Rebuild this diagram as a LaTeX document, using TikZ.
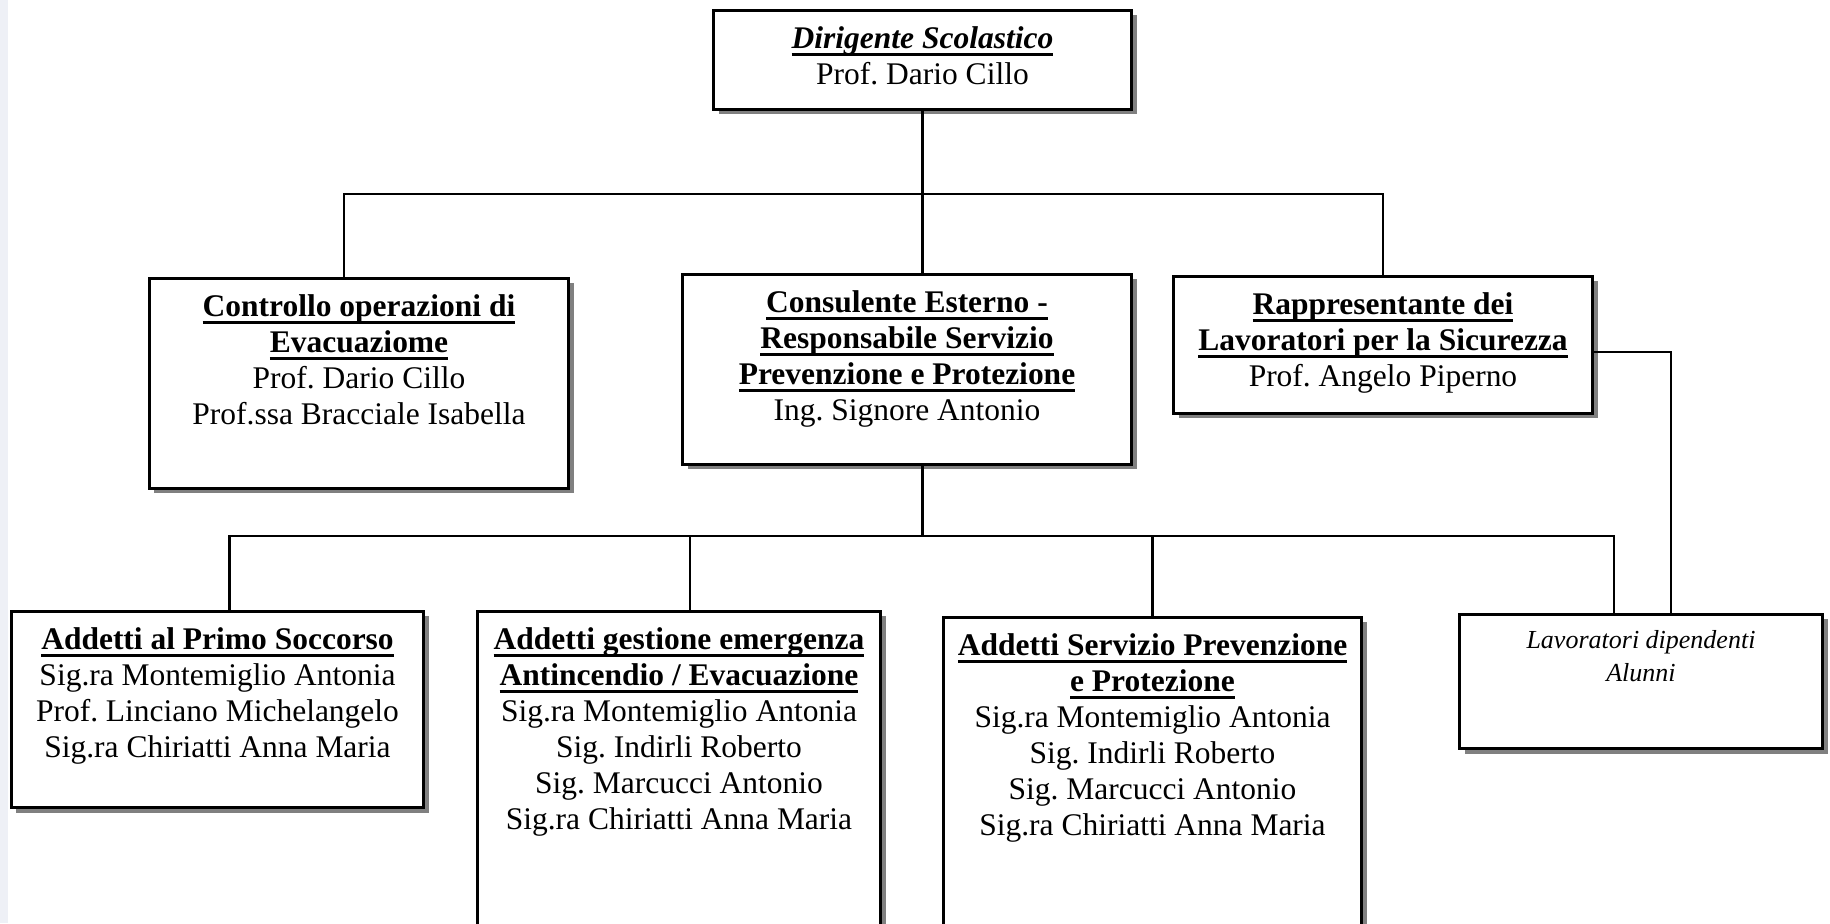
\documentclass[tikz,border=0pt]{standalone}
\usepackage{fontspec}
\setmainfont{Liberation Serif}
\usepackage{tikz}
\usetikzlibrary{calc}
\usetikzlibrary{shadows, positioning}

\definecolor{striscia}{HTML}{EEF0F6}
\frenchspacing

\newcommand{\sott}[1]{\leavevmode\setbox0=\hbox{\bfseries #1}\rlap{\rule[-2.1pt]{\wd0}{0.75pt}}\box0}
\newcommand{\riq}[3]{\parbox[t][#2][t]{#1}{\centering #3}}

\begin{document}
\begin{tikzpicture}[every node/.style={font=\fontsize{8.96}{10.25}\selectfont},
    box/.style={draw, line width=0.85pt, fill=white, anchor=north west,
        inner xsep=0.1cm, inner ysep=0.16cm,
        drop shadow={shadow xshift=0.05cm, shadow yshift=-0.05cm, fill=black!50, opacity=1}},
    conn/.style={line width=0.6pt}]
    \useasboundingbox (0,0) rectangle (18.30,9.23);
    \clip (0,0) rectangle (18.30,9.23);
    \fill[striscia] (0,0) rectangle (0.08,9.23);

    \node[box] (dir) at (7.12,9.14) {\riq{3.98cm}{0.67cm}{\sott{\itshape Dirigente Scolastico}\\ Prof. Dario Cillo}};
    \node[box] (ctrl) at (1.48,6.46) {\riq{3.99cm}{1.78cm}{\sott{Controllo operazioni di}\\ \sott{Evacuaziome}\\ Prof. Dario Cillo\\ Prof.ssa Bracciale Isabella}};
    \node[box] (cons) at (6.81,6.50) {\riq{4.29cm}{1.58cm}{\sott{Consulente Esterno -}\\ \sott{Responsabile Servizio}\\ \sott{Prevenzione e Protezione}\\ Ing. Signore Antonio}};
    \node[box] (rls) at (11.72,6.48) {\riq{3.99cm}{1.05cm}{\sott{Rappresentante dei}\\ \sott{Lavoratori per la Sicurezza}\\ Prof. Angelo Piperno}};
    \node[box] (soc) at (0.10,3.13) {\riq{3.92cm}{1.64cm}{\sott{Addetti al Primo Soccorso}\\ Sig.ra Montemiglio Antonia\\ Prof. Linciano Michelangelo\\ Sig.ra Chiriatti Anna Maria}};
    \node[box] (ant) at (4.76,3.13) {\riq{3.83cm}{2.98cm}{\sott{Addetti gestione emergenza}\\ \sott{Antincendio / Evacuazione}\\ Sig.ra Montemiglio Antonia\\ Sig. Indirli Roberto\\ Sig. Marcucci Antonio\\ Sig.ra Chiriatti Anna Maria}};
    \node[box] (spp) at (9.42,3.07) {\riq{3.98cm}{2.98cm}{\sott{Addetti Servizio Prevenzione}\\ \sott{e Protezione}\\ Sig.ra Montemiglio Antonia\\ Sig. Indirli Roberto\\ Sig. Marcucci Antonio\\ Sig.ra Chiriatti Anna Maria}};
    \node[box] (lav) at (14.58,3.10) {\riq{3.43cm}{1.02cm}{\fontsize{7.4}{9.3}\selectfont\itshape Lavoratori dipendenti\\ Alunni}};

    \coordinate (bus1) at (dir.south |- 0,7.29);
    \coordinate (bus2) at (dir.south |- 0,3.87);

    \draw[conn] (dir.south) -- (bus1 |- cons.north);
    \draw[conn] ([xshift=-0.15cm]ctrl.north) |- (bus1) -| (rls.north);
    \draw[conn] (bus1 |- cons.south) -- (bus2);
    \draw[conn] ([xshift=0.12cm]soc.north) |- (bus2) -| ([xshift=-0.27cm]lav.north);
    \draw[conn] ([xshift=0.11cm]ant.north) -- ([xshift=0.11cm]ant.north |- bus2);
    \draw[conn] (spp.north) -- (spp.north |- bus2);
    \draw[conn] ([yshift=-0.07cm]rls.east) -| ([xshift=0.3cm]lav.north);
\end{tikzpicture}
\end{document}
